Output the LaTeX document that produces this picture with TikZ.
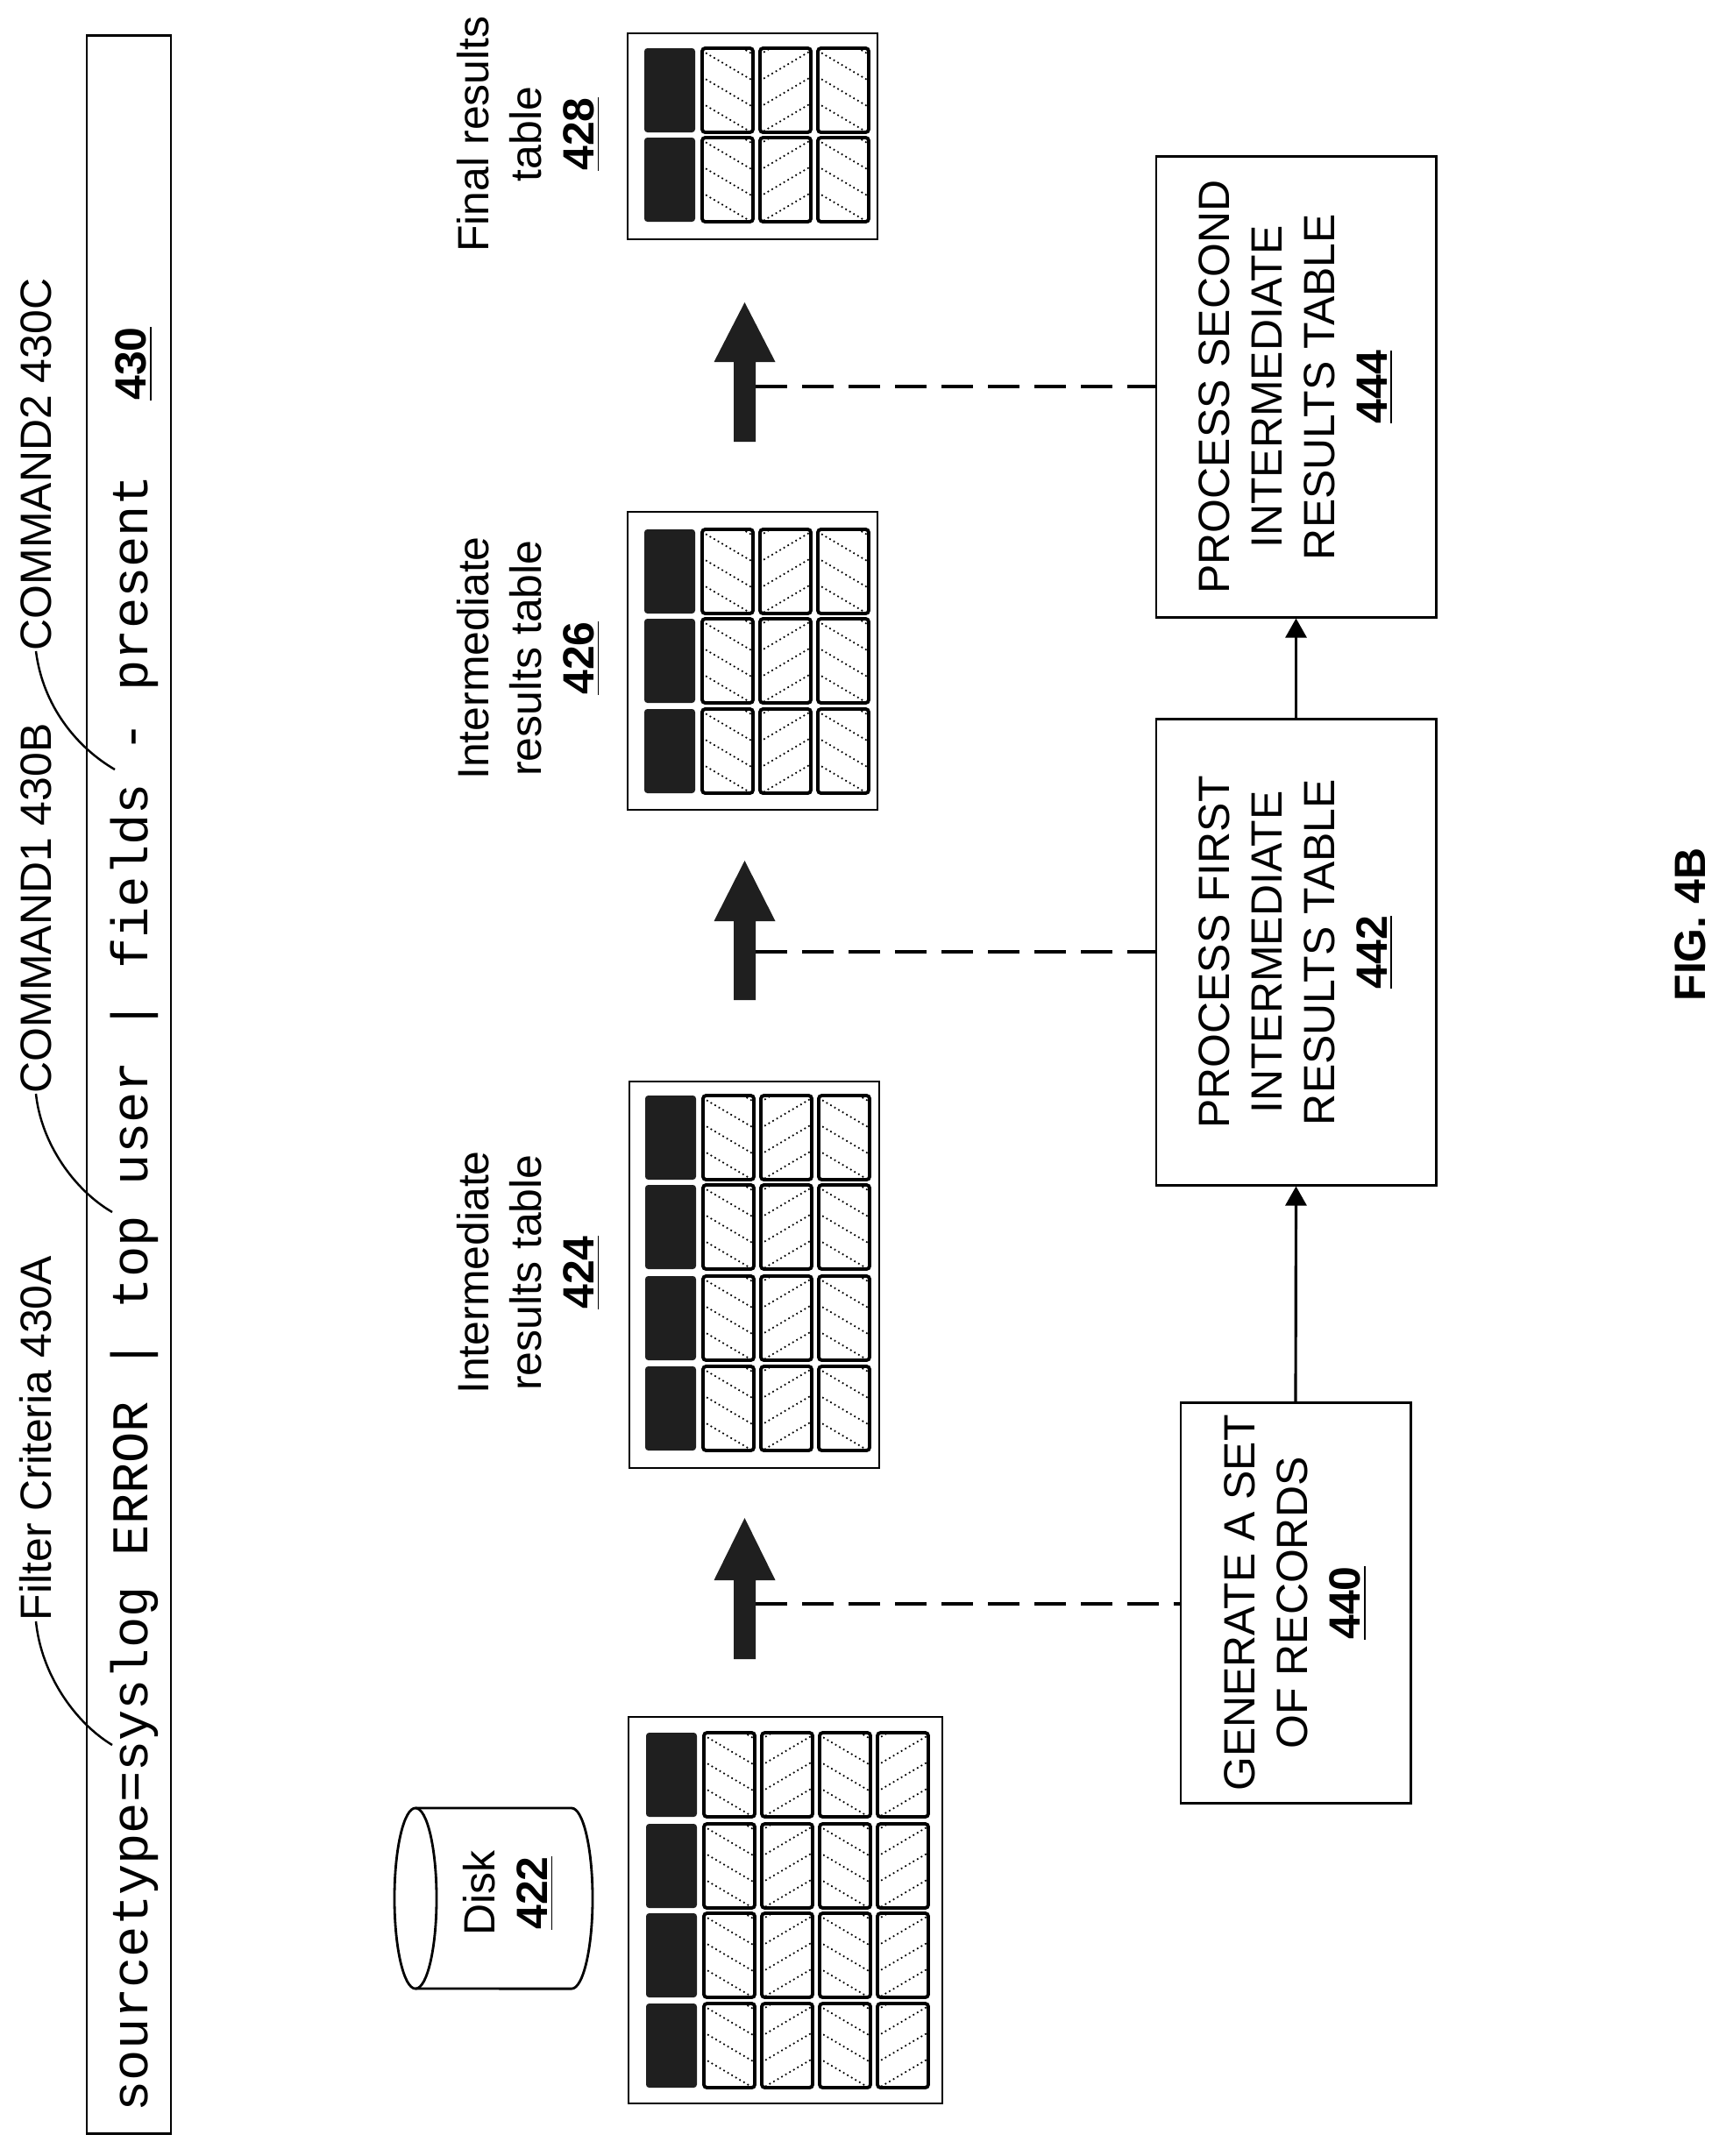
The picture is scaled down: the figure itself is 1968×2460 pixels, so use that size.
\documentclass[tikz,border=0pt]{standalone}
\usepackage{fontspec}
\setmainfont{Liberation Sans}
\setmonofont{Liberation Mono}
\usetikzlibrary{arrows.meta}
\newcommand{\lbl}{\fontsize{14.2}{17}\selectfont}
\newcommand{\cellrow}[3]{% x0, y0, ncols
  \fill[black!88,rounded corners=1pt] (#1,#2) rectangle ++(58,96);
  \foreach \c in {1,...,#3}{
    \pgfmathsetmacro{\cx}{#1+66*\c}
    \begin{scope}
      \clip (\cx,#2) rectangle ++(58,96);
      \pgfmathtruncatemacro{\odd}{mod(\c,2)}
      \foreach \k in {-3,...,4}{
        \ifnum\odd=1
          \draw[hatch] (\cx-5,#2+\k*30) -- ++(68,40);
        \else
          \draw[hatch] (\cx-5,#2+\k*30+40) -- ++(68,-40);
        \fi
      }
    \end{scope}
    \draw[cellb] (\cx,#2) rectangle ++(58,96);
  }
}
\newcommand{\bigarrow}[4]{% xc, tip, base, bottom
  \fill[black!88] (#1-12.5,#4) -- (#1-12.5,#3) -- (#1-35,#3) -- (#1,#2) -- (#1+35,#3) -- (#1+12.5,#3) -- (#1+12.5,#4) -- cycle;
}
\begin{document}
\begin{tikzpicture}[x=0.01cm,y=-0.01cm,
  hatch/.style={line width=0.5pt,densely dotted},
  cellb/.style={line width=1.1pt,rounded corners=1pt},
  outer/.style={line width=0.8pt},
  box/.style={draw,line width=0.8pt},
  txt/.style={rotate=90,align=center,font=\lbl,inner sep=0pt},
  dashl/.style={line width=0.9pt,dash pattern=on 0.36cm off 0.17cm},
  lead/.style={line width=0.7pt},
  flow/.style={line width=0.9pt,-{Triangle[length=0.22cm,width=0.24cm]}}]
\useasboundingbox (0,0) rectangle (1968,2460);
% command bar
\node[box,minimum width=0.96cm,minimum height=23.93cm,inner sep=0pt] (bar) at (147,1237.5) {};
\node[rotate=90,anchor=west,inner sep=0pt,font=\ttfamily\fontsize{16.7}{18}\selectfont] (cmd) at (153,2410) {sourcetype=syslog ERROR | top user | fields - present};
\node[txt] (n430) at (153,415) {\textbf{\underline{430}}};
% labels with leaders
\node[rotate=90,anchor=west,inner sep=0pt,font=\lbl] (lfc) at (41,1850) {Filter Criteria 430A};
\node[rotate=90,anchor=west,inner sep=0pt,font=\lbl] (lc1) at (41,1248) {COMMAND1 430B};
\node[rotate=90,anchor=west,inner sep=0pt,font=\lbl] (lc2) at (41,743) {COMMAND2 430C};
\coordinate (pfc) at (128,1991);
\coordinate (pc1) at (128,1383);
\coordinate (pc2) at (131,878);
\draw[lead] (lfc.west) .. controls (47,1910) and (85,1965) .. (pfc);
\draw[lead] (lc1.west) .. controls (47,1305) and (85,1358) .. (pc1);
\draw[lead] (lc2.west) .. controls (49,806) and (88,853) .. (pc2);
% tables
\draw[outer] (716,38) rectangle (1001,273);
\foreach \y in {55,157} {\cellrow{735}{\y}{3}}
\draw[outer] (716,584) rectangle (1001,924);
\foreach \y in {604,706,809} {\cellrow{735}{\y}{3}}
\draw[outer] (718,1234) rectangle (1003,1675);
\foreach \y in {1250,1352,1456,1559} {\cellrow{736}{\y}{3}}
\draw[outer] (717,1959) rectangle (1075,2400);
\foreach \y in {1977,2081,2183,2286} {\cellrow{737}{\y}{4}}
% table labels
\node[txt] (t428) at (603,153) {Final results\\table\\\textbf{\underline{428}}};
\node[txt] (t426) at (603,751) {Intermediate\\results table\\\textbf{\underline{426}}};
\node[txt] (t424) at (603,1452) {Intermediate\\results table\\\textbf{\underline{424}}};
% disk
\draw[line width=0.8pt] (474,2166) ellipse [x radius=0.24cm,y radius=1.03cm];
\draw[line width=0.8pt] (474,2063) -- (652,2063) arc[start angle=90,end angle=-90,x radius=0.24cm,y radius=1.03cm] -- (474,2269);
\node[txt] (disk) at (580,2160) {Disk\\\textbf{\underline{422}}};
% big arrows
\bigarrow{849.5}{345}{413}{504}
\bigarrow{849.5}{982}{1051}{1141}
\bigarrow{849.5}{1732}{1803}{1893}
\coordinate (a3) at (862,441);
\coordinate (a2) at (862,1086);
\coordinate (a1) at (862,1830);
% process boxes
\node[box,minimum width=3.19cm,minimum height=5.25cm] (b444) at (1478.5,441.5) {};
\node[txt] at (b444) {PROCESS SECOND\\INTERMEDIATE\\RESULTS TABLE\\\textbf{\underline{444}}};
\node[box,minimum width=3.19cm,minimum height=5.31cm] (b442) at (1478.5,1086.5) {};
\node[txt] at (b442) {PROCESS FIRST\\INTERMEDIATE\\RESULTS TABLE\\\textbf{\underline{442}}};
\node[box,minimum width=2.62cm,minimum height=4.56cm] (b440) at (1478,1829) {};
\node[txt] at (b440) {GENERATE A SET\\OF RECORDS\\\textbf{\underline{440}}};
\draw[flow] (b440.north) -- (b442.south);
\draw[flow] (b442.north) -- (b444.south);
\draw[dashl] (a3) -- (a3 -| b444.west);
\draw[dashl] (a2) -- (a2 -| b442.west);
\draw[dashl] (a1) -- (a1 -| b440.west);
\node[rotate=90,font=\bfseries\lbl,inner sep=0pt] (fig) at (1928,1055) {FIG. 4B};
\end{tikzpicture}
\end{document}
